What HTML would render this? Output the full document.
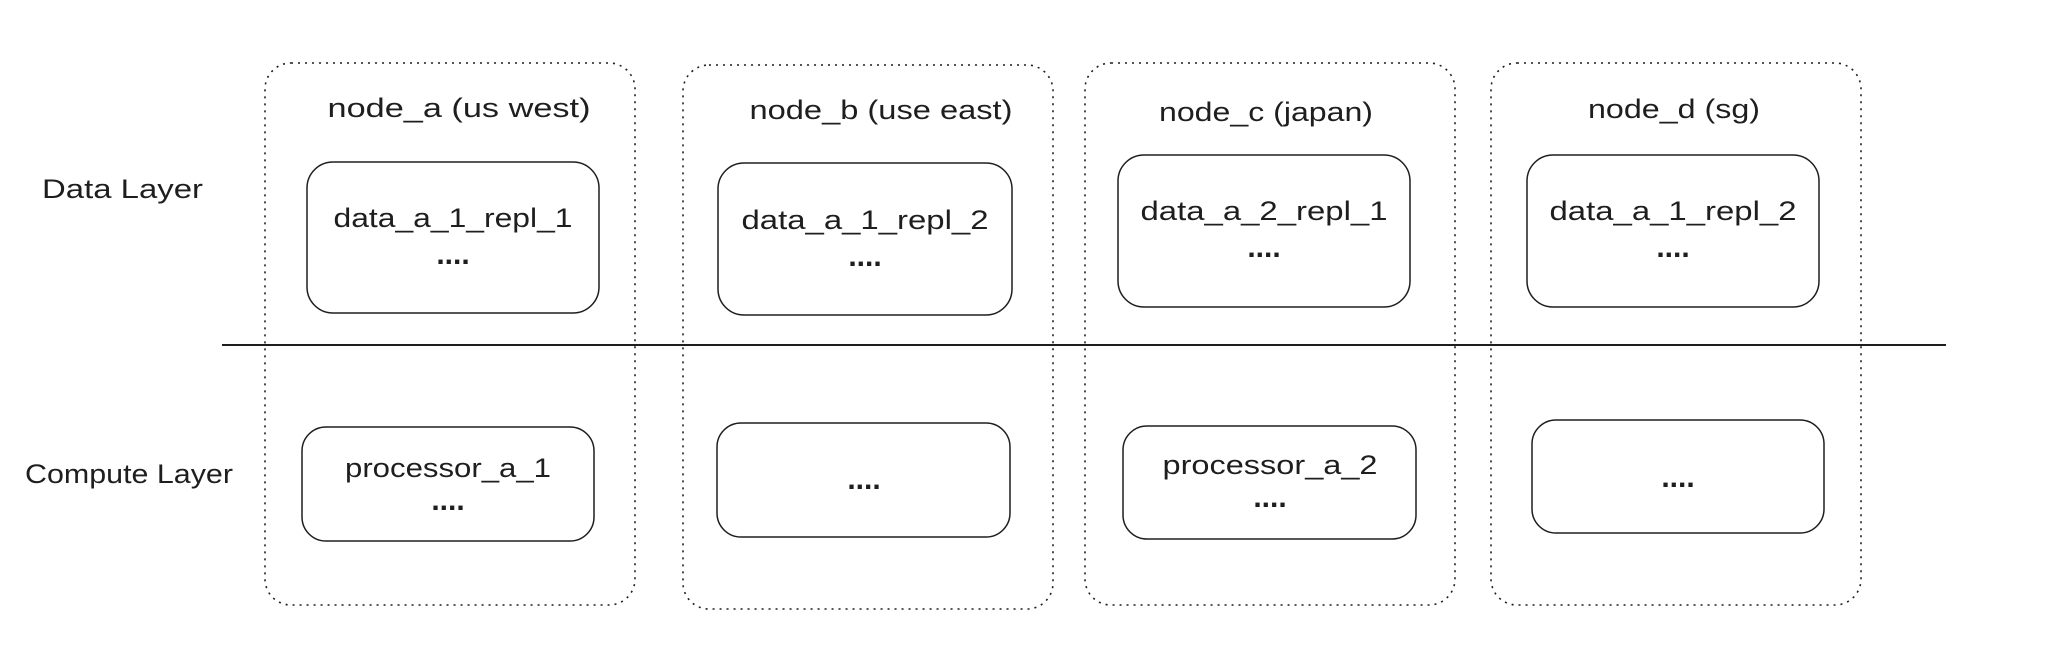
<!DOCTYPE html>
<html><head><style>html,body{margin:0;padding:0;background:#fff}</style></head>
<body>
<svg width="2048" height="655" viewBox="0 0 2048 655" xmlns="http://www.w3.org/2000/svg" font-family="Liberation Sans, sans-serif" font-size="27" fill="#1e1e1e">
<g fill="none" stroke="#1e1e1e" stroke-width="1.6" stroke-dasharray="2 5">
<rect x="265" y="63" width="370" height="542" rx="26"/>
<rect x="683" y="65" width="370" height="544" rx="26"/>
<rect x="1085" y="63" width="370" height="542" rx="26"/>
<rect x="1491" y="63" width="370" height="542" rx="26"/>
</g>
<line x1="222" y1="345" x2="1946" y2="345" stroke="#1e1e1e" stroke-width="2"/>
<g fill="none" stroke="#1e1e1e" stroke-width="1.5">
<rect x="307" y="162" width="292" height="151" rx="26"/>
<rect x="718" y="163" width="294" height="152" rx="26"/>
<rect x="1118" y="155" width="292" height="152" rx="26"/>
<rect x="1527" y="155" width="292" height="152" rx="26"/>
<rect x="302" y="427" width="292" height="114" rx="24"/>
<rect x="717" y="423" width="293" height="114" rx="24"/>
<rect x="1123" y="426" width="293" height="113" rx="24"/>
<rect x="1532" y="420" width="292" height="113" rx="24"/>
</g>
<g stroke="none" dominant-baseline="middle" text-anchor="middle">
<text x="42" y="191" text-anchor="start" textLength="161" lengthAdjust="spacingAndGlyphs">Data Layer</text>
<text x="25" y="476" text-anchor="start" textLength="208" lengthAdjust="spacingAndGlyphs">Compute Layer</text>
<text x="459" y="110" textLength="263" lengthAdjust="spacingAndGlyphs">node_a  (us west)</text>
<text x="881" y="112" textLength="263" lengthAdjust="spacingAndGlyphs">node_b (use east)</text>
<text x="1266" y="114" textLength="214" lengthAdjust="spacingAndGlyphs">node_c (japan)</text>
<text x="1674" y="111" textLength="172" lengthAdjust="spacingAndGlyphs">node_d (sg)</text>
<text x="453" y="220" textLength="239" lengthAdjust="spacingAndGlyphs">data_a_1_repl_1</text>
<text x="865" y="222" textLength="247" lengthAdjust="spacingAndGlyphs">data_a_1_repl_2</text>
<text x="1264" y="213" textLength="247" lengthAdjust="spacingAndGlyphs">data_a_2_repl_1</text>
<text x="1673" y="213" textLength="247" lengthAdjust="spacingAndGlyphs">data_a_1_repl_2</text>
<text x="448" y="470" textLength="206" lengthAdjust="spacingAndGlyphs">processor_a_1</text>
<text x="1270" y="467" textLength="215" lengthAdjust="spacingAndGlyphs">processor_a_2</text>
</g>
<g stroke="none" dominant-baseline="middle" text-anchor="middle" font-weight="bold" font-size="30">
<text x="453" y="256">....</text>
<text x="865" y="258">....</text>
<text x="1264" y="249">....</text>
<text x="1673" y="249">....</text>
<text x="448" y="502">....</text>
<text x="864" y="481">....</text>
<text x="1270" y="499">....</text>
<text x="1678" y="479">....</text>
</g>
</svg>
</body></html>
